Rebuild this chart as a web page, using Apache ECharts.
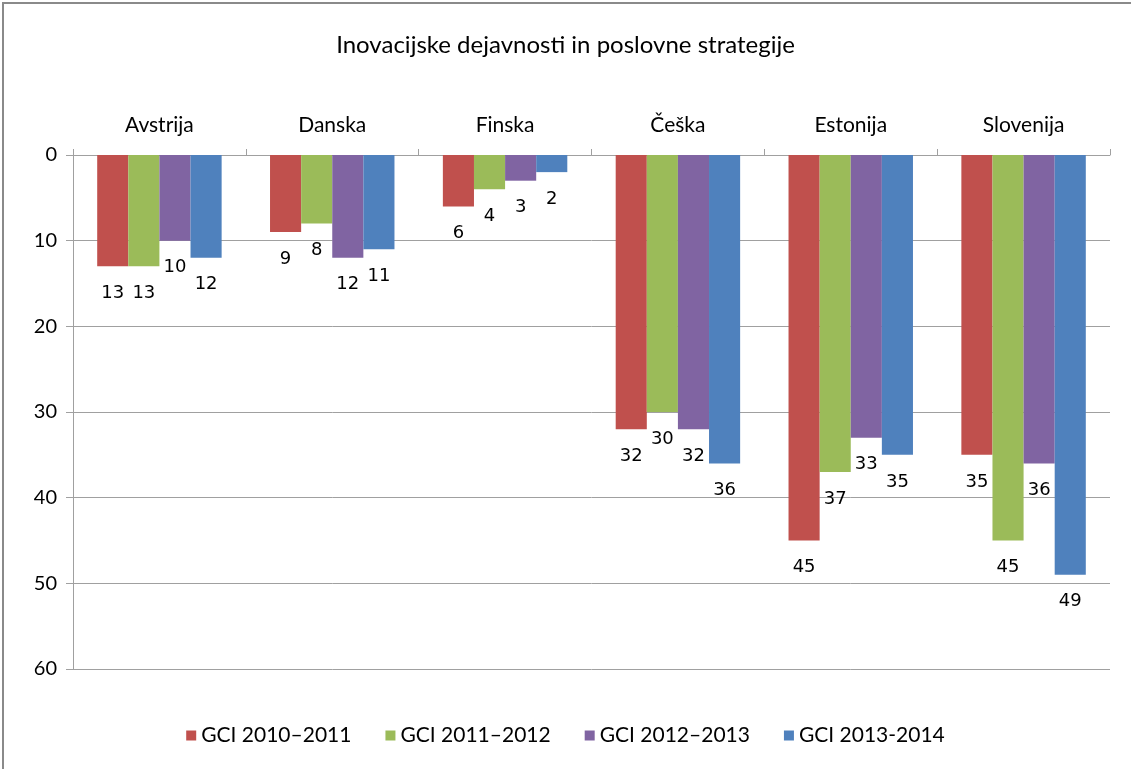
<!DOCTYPE html>
<html>
<head>
<meta charset="utf-8">
<script src="https://cdn.jsdelivr.net/npm/echarts@6/dist/echarts.min.js"></script>
<style>
html,body{margin:0;padding:0;background:#fff;}
#chart{width:1131px;height:769px;}
</style>
</head>
<body>
<div id="chart"></div>
<script>
const categories = ['Avstrija', 'Danska', 'Finska', 'Češka', 'Estonija', 'Slovenija'];
const seriesNames = ['GCI 2010\u20132011', 'GCI 2011\u20132012', 'GCI 2012\u20132013', 'GCI 2013-2014'];
const gci2010 = [13, 9, 6, 32, 45, 35];
const gci2011 = [13, 8, 4, 30, 37, 45];
const gci2012 = [10, 12, 3, 32, 33, 36];
const gci2013 = [12, 11, 2, 36, 35, 49];
const colors = ['#C0504D', '#9BBB59', '#8064A2', '#4F81BD'];

const chart = echarts.init(document.getElementById('chart'));
const allData = [gci2010, gci2011, gci2012, gci2013];
const font = 'Lato, "Liberation Sans", sans-serif';
chart.setOption({
  animation: false,
  color: colors,
  title: {
    text: 'Inovacijske dejavnosti in poslovne strategije',
    left: 'center', top: 28,
    textStyle: {fontFamily: font, fontWeight: 'normal', fontSize: 24, color: '#000'}
  },
  legend: {
    bottom: 18, left: 'center',
    itemWidth: 10, itemHeight: 10, itemGap: 34,
    icon: 'rect',
    textStyle: {fontFamily: font, fontSize: 21, color: '#000'},
    data: seriesNames
  },
  grid: {left: 73, right: 21, top: 155, bottom: 100, containLabel: false},
  xAxis: {
    type: 'category', position: 'top', data: categories,
    axisLine: {show: true, lineStyle: {color: '#a0a0a0', width: 1}},
    axisTick: {show: true, length: 6, lineStyle: {color: '#a0a0a0'}},
    axisLabel: {margin: 19, fontFamily: font, fontSize: 21, color: '#000'}
  },
  yAxis: {
    type: 'value', inverse: true, min: 0, max: 60, interval: 10,
    axisLine: {show: true, lineStyle: {color: '#a0a0a0', width: 1}},
    axisTick: {show: true, length: 7, lineStyle: {color: '#a0a0a0'}},
    axisLabel: {margin: 16, fontFamily: font, fontSize: 20, color: '#000'},
    splitLine: {show: true, lineStyle: {color: '#a0a0a0', width: 1}}
  },
  graphic: [{
    type: 'polyline', silent: true,
    shape: {points: [[3, 769], [3, 3], [1131, 3]]},
    style: {stroke: '#8a8a8a', lineWidth: 2, fill: null}
  }],
  series: seriesNames.map((n, i) => ({
    name: n, type: 'bar', data: allData[i],
    barGap: '0%', barCategoryGap: '28%',
    itemStyle: {color: colors[i]},
    label: {show: true, position: 'bottom', distance: 18,
      fontFamily: '"DejaVu Sans", sans-serif', fontSize: 18, color: '#000'}
  }))
});
</script>
</body>
</html>
